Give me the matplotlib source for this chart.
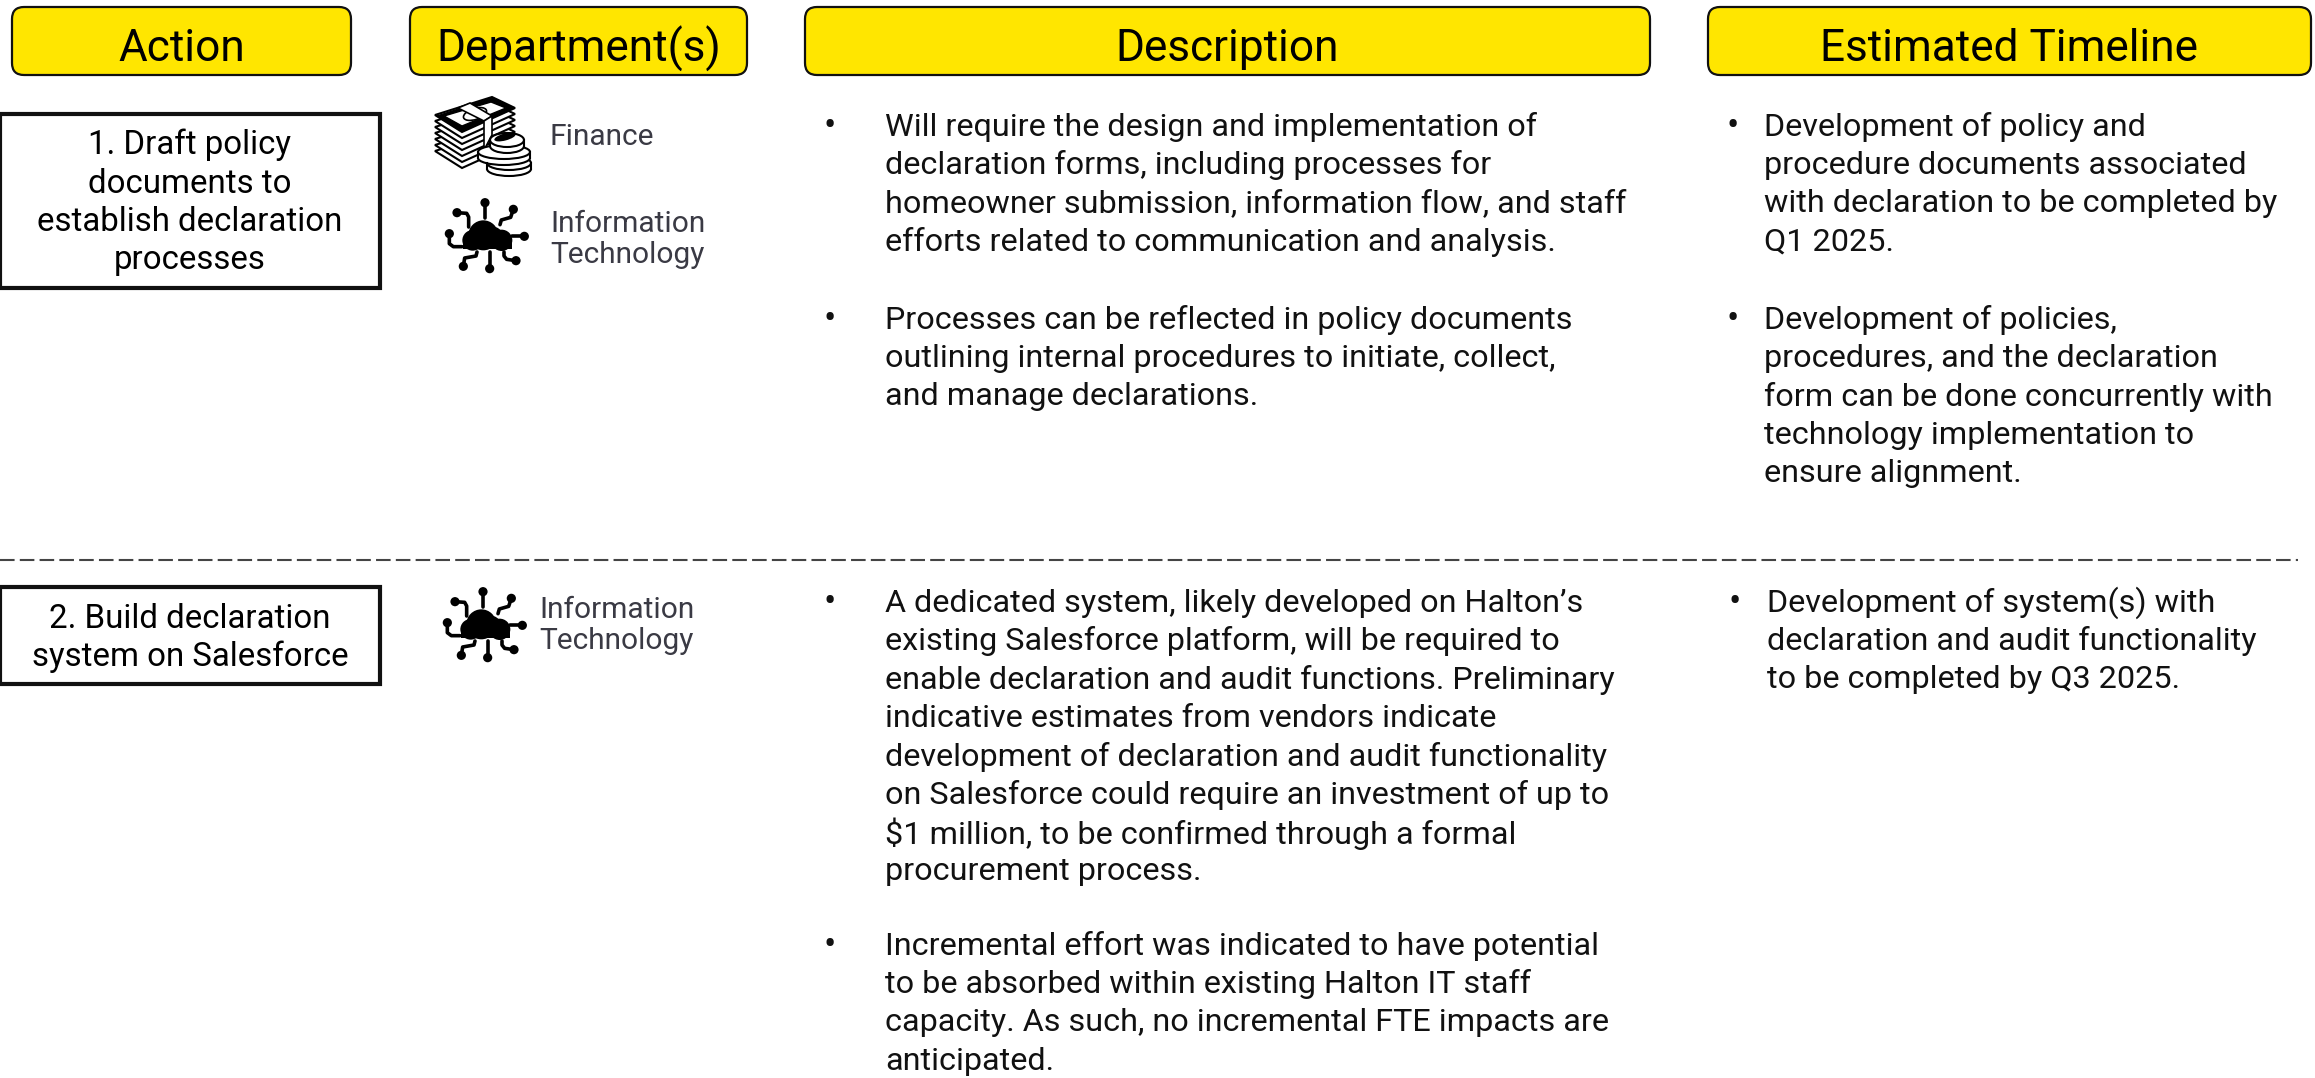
import matplotlib
matplotlib.use('Agg')
import matplotlib.pyplot as plt
from matplotlib.patches import FancyBboxPatch, Rectangle, Polygon, Circle, Ellipse

plt.rcParams['font.family'] = ['Roboto', 'DejaVu Sans']

# header boxes
headers = ['Action', 'Department(s)', 'Description', 'Estimated Timeline']
header_x0 = [12, 410, 805, 1708]
header_x1 = [351, 747, 1650, 2311]

# action boxes
actions = [['1. Draft policy', 'documents to', 'establish declaration', 'processes'],
           ['2. Build declaration', 'system on Salesforce']]
action_y0 = [114, 587]
action_y1 = [288, 684]
action_line_y = [[145, 184, 222, 260], [619, 657]]

# body text, one list per bullet
desc_1 = [['Will require the design and implementation of',
           'declaration forms, including processes for',
           'homeowner submission, information flow, and staff',
           'efforts related to communication and analysis.'],
          ['Processes can be reflected in policy documents',
           'outlining internal procedures to initiate, collect,',
           'and manage declarations.']]
desc_2 = [['A dedicated system, likely developed on Halton’s',
           'existing Salesforce platform, will be required to',
           'enable declaration and audit functions. Preliminary',
           'indicative estimates from vendors indicate',
           'development of declaration and audit functionality',
           'on Salesforce could require an investment of up to',
           '$1 million, to be confirmed through a formal',
           'procurement process.'],
          ['Incremental effort was indicated to have potential',
           'to be absorbed within existing Halton IT staff',
           'capacity. As such, no incremental FTE impacts are',
           'anticipated.']]
time_1 = [['Development of policy and',
           'procedure documents associated',
           'with declaration to be completed by',
           'Q1 2025.'],
          ['Development of policies,',
           'procedures, and the declaration',
           'form can be done concurrently with',
           'technology implementation to',
           'ensure alignment.']]
time_2 = [['Development of system(s) with',
           'declaration and audit functionality',
           'to be completed by Q3 2025.']]

YELLOW = '#ffe600'
GREY = '#3a3a44'
LINE_H = 38.4


def bullets(ax, blocks, y_starts, bullet_x, text_x):
    for lines, y0 in zip(blocks, y_starts):
        ax.text(bullet_x, y0, '•', fontsize=26, ha='center', va='center', color='#111111')
        for i, line in enumerate(lines):
            ax.text(text_x, y0 + i * LINE_H, line, fontsize=23.3, ha='left', va='center', color='#111111')


def cloud_icon(ax, cx, cy):
    s = 1 / 3
    def p(x, y):
        return cx + (x - 193) * s, cy + (y - 192) * s
    for x, y, r in [(182, 190, 45), (150, 205, 31), (237, 205, 32), (210, 196, 32)]:
        ax.add_patch(Circle(p(x, y), r * s, color='black', lw=0))
    x0, y0 = p(120, 205)
    x1, y1 = p(268, 231)
    ax.add_patch(Rectangle((x0, y0), x1 - x0, y1 - y0, color='black', lw=0))
    traces = [[(187, 92), (187, 138)],
              [(103, 122), (132, 124), (138, 135), (138, 165)],
              [(272, 112), (264, 136), (236, 144), (232, 158)],
              [(305, 193), (268, 193)],
              [(80, 185), (80, 215), (92, 224), (118, 224)],
              [(122, 283), (126, 258), (160, 252), (163, 240)],
              [(201, 290), (201, 240)],
              [(280, 266), (252, 262), (244, 252), (244, 240)]]
    for tr in traces:
        xs, ys = zip(*[p(*q) for q in tr])
        ax.plot(xs, ys, color='black', lw=2.6, solid_capstyle='round')
        ax.add_patch(Circle((xs[0], ys[0]), 4.6, color='black', lw=0))


def money_icon(ax):
    # stack of notes, bottom layer first
    for dy in [36, 30, 24, 18, 12, 6, 0]:
        ax.add_patch(Polygon([(435, 115 + dy), (492, 97 + dy), (515, 108 + dy), (462, 132 + dy)],
                             closed=True, fc='white', ec='black', lw=1.5))
    ax.add_patch(Polygon([(437, 116), (492, 98), (514, 108), (462, 131)], closed=True, fc='black', ec='black'))
    ax.add_patch(Polygon([(444, 116), (491, 102), (506, 108), (462, 126)], closed=True, fc='white', ec='black', lw=1))
    ax.add_patch(Ellipse((475, 114), 24, 11, angle=-18, fc='white', ec='black', lw=1.2))
    ax.add_patch(Polygon([(458, 108), (470, 103), (492, 116), (484, 121)], closed=True, fc='white', ec='black', lw=1.2))
    ax.add_patch(Polygon([(484, 121), (492, 116), (492, 135), (484, 150)], closed=True, fc='white', ec='black', lw=1.2))
    # coins
    for x, y, rx in [(509, 163, 22), (504, 152, 26), (507, 140, 17)]:
        ax.add_patch(Rectangle((x - rx, y - 1), 2 * rx, 7, fc='white', ec='none'))
        ax.add_patch(Ellipse((x, y + 6), 2 * rx, 14, fc='white', ec='black', lw=1.5))
        ax.add_patch(Rectangle((x - rx + 1, y), 2 * rx - 2, 6, fc='white', ec='none'))
        ax.plot([x - rx, x - rx], [y, y + 6], color='black', lw=1.5)
        ax.plot([x + rx, x + rx], [y, y + 6], color='black', lw=1.5)
        ax.add_patch(Ellipse((x, y), 2 * rx, 14, fc='white', ec='black', lw=1.5))
    ax.add_patch(Ellipse((505, 137), 22, 7, angle=-15, fc='black', ec='none'))


fig = plt.figure(figsize=(23.15, 10.78), dpi=100)
ax = fig.add_axes([0, 0, 1, 1])
ax.set_xlim(0, 2315)
ax.set_ylim(1078, 0)
ax.axis('off')

for name, x0, x1 in zip(headers, header_x0, header_x1):
    ax.add_patch(FancyBboxPatch((x0 + 12, 7 + 12), x1 - x0 - 24, 68 - 24,
                                boxstyle='round,pad=12,rounding_size=12',
                                fc=YELLOW, ec='#111111', lw=1.6))
    ax.text((x0 + x1) / 2, 49, name, fontsize=31.8, ha='center', va='center', color='black')

for lines, y0, y1, ys in zip(actions, action_y0, action_y1, action_line_y):
    ax.add_patch(Rectangle((0, y0), 380, y1 - y0, fc='white', ec='#111111', lw=3, clip_on=False))
    for line, y in zip(lines, ys):
        ax.text(190, y, line, fontsize=23.8, ha='center', va='center', color='black')

money_icon(ax)
cloud_icon(ax, 487, 236)
cloud_icon(ax, 485, 625)

ax.text(550, 137, 'Finance', fontsize=21.5, ha='left', va='center', color=GREY)
ax.text(550, 224, 'Information', fontsize=21.5, ha='left', va='center', color=GREY)
ax.text(550, 255, 'Technology', fontsize=21.5, ha='left', va='center', color=GREY)
ax.text(539, 610, 'Information', fontsize=21.5, ha='left', va='center', color=GREY)
ax.text(539, 641, 'Technology', fontsize=21.5, ha='left', va='center', color=GREY)

ax.plot([0, 2298], [560, 560], color='#444444', lw=1.5, dashes=(7, 2.5))

bullets(ax, desc_1, [127, 320], 830, 885)
bullets(ax, desc_2, [603, 946], 830, 885)
bullets(ax, time_1, [127, 320], 1733, 1764)
bullets(ax, time_2, [603], 1735, 1767)

fig.savefig('out.png', dpi=100)
